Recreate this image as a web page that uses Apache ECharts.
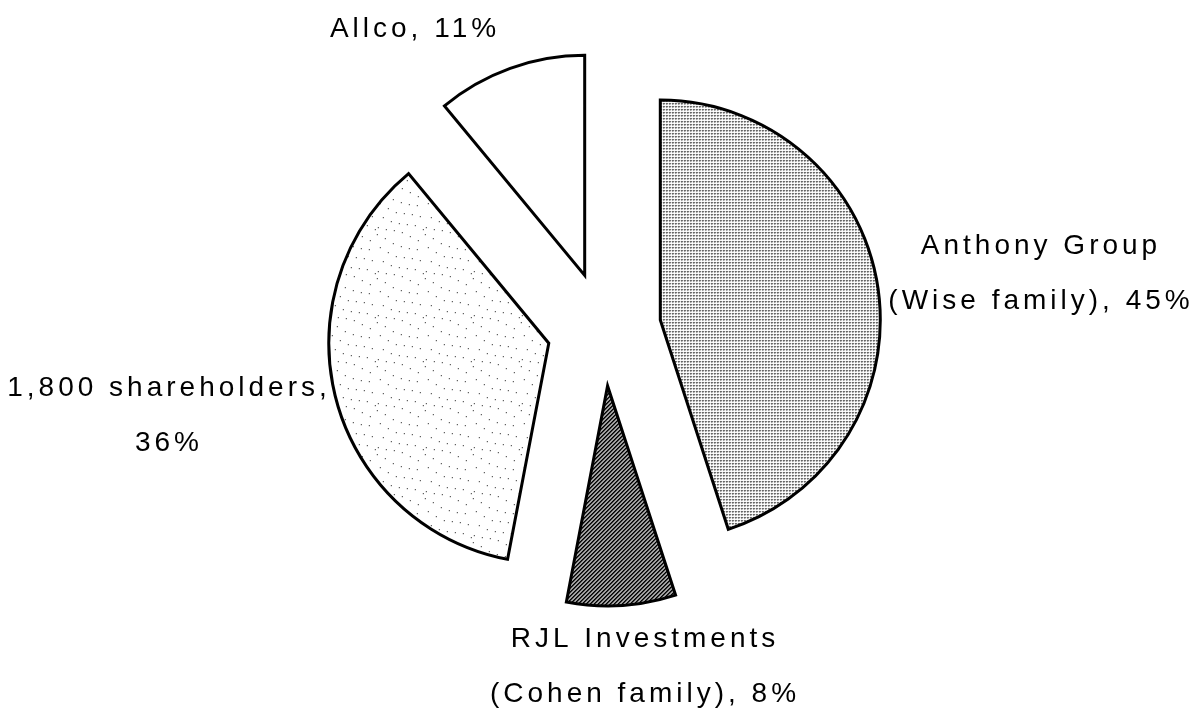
<!DOCTYPE html>
<html>
<head>
<meta charset="utf-8">
<script src="https://cdn.jsdelivr.net/npm/echarts@6/dist/echarts.min.js"></script>
<style>
html,body{margin:0;padding:0;background:#fff;}
#chart{width:1200px;height:710px;}
</style>
</head>
<body>
<div id="chart"></div>
<script>
// ---- data ----
const categories = ['Anthony Group\n(Wise family)', 'RJL Investments\n(Cohen family)', '1,800 shareholders', 'Allco'];
const shares = [45, 8, 36, 11];
const separators = [', ', ', ', ',\n', ', '];

// ---- layout (label anchor points, px) ----
const labelPos = [[1041, 274], [645, 667], [169, 416], [415, 29]];

// letter spacing for canvas text (reference text is widely spaced)
(function () {
  const orig = CanvasRenderingContext2D.prototype.fillText;
  CanvasRenderingContext2D.prototype.fillText = function () {
    try { this.letterSpacing = '4px'; } catch (e) {}
    return orig.apply(this, arguments);
  };
})();

function makeTile(w, h, draw) {
  const c = document.createElement('canvas');
  c.width = w; c.height = h;
  const g = c.getContext('2d');
  g.fillStyle = '#fff';
  g.fillRect(0, 0, w, h);
  draw(g);
  return c;
}
// light stipple
const stipple = makeTile(3, 3, g => {
  g.fillStyle = '#000'; g.fillRect(1, 1, 1, 1);
  g.fillStyle = '#888'; g.fillRect(2, 1, 1, 1); g.fillRect(1, 2, 1, 1);
});
// dark diagonal hatch
const hatch = makeTile(4, 4, g => {
  for (let x = 0; x < 4; x++) for (let y = 0; y < 4; y++) {
    const k = (x + y) % 4;
    if (k === 0 || k === 1) { g.fillStyle = '#000'; g.fillRect(x, y, 1, 1); }
    else if (k === 2) { g.fillStyle = '#777'; g.fillRect(x, y, 1, 1); }
  }
});
// sparse dotted wavy rows
const dotOffsets = [0, 1, 3, 4, 3, 1];
const dots = makeTile(48, 44, g => {
  g.fillStyle = '#111';
  for (let r = 0; r < 4; r++) {
    for (let i = 0; i < 6; i++) {
      const x = i * 8 + (r * 3) % 8;
      const y = (r * 11 + Math.round(x * 0.35) + dotOffsets[(i + r) % 6]) % 44;
      g.fillRect(x, y, 1, 1);
    }
  }
});
const fills = [
  { image: stipple, repeat: 'repeat' },
  { image: hatch, repeat: 'repeat' },
  { image: dots, repeat: 'repeat' },
  '#ffffff'
];

const chart = echarts.init(document.getElementById('chart'), null, { renderer: 'canvas' });
const baseItem = { borderColor: '#000', borderWidth: 3, borderJoin: 'miter' };
chart.setOption({
  animation: false,
  backgroundColor: '#fff',
  graphic: categories.map((n, i) => ({
    type: 'text',
    x: labelPos[i][0],
    y: labelPos[i][1],
    silent: true,
    style: {
      text: n + separators[i] + shares[i] + '%',
      fontFamily: 'Liberation Sans',
      fontSize: 28,
      lineHeight: 55,
      fill: '#000',
      align: 'center',
      verticalAlign: 'middle'
    }
  })),
  series: [{
    type: 'pie',
    center: [604, 329],
    radius: 220,
    startAngle: 90,
    clockwise: true,
    selectedMode: 'multiple',
    selectedOffset: 57,
    avoidLabelOverlap: false,
    emphasis: { disabled: true },
    label: { show: false },
    labelLine: { show: false },
    data: categories.map((n, i) => ({
      name: n,
      value: shares[i],
      selected: true,
      itemStyle: Object.assign({ color: fills[i] }, baseItem),
      select: { itemStyle: Object.assign({ color: fills[i] }, baseItem) }
    }))
  }]
});
</script>
</body>
</html>
